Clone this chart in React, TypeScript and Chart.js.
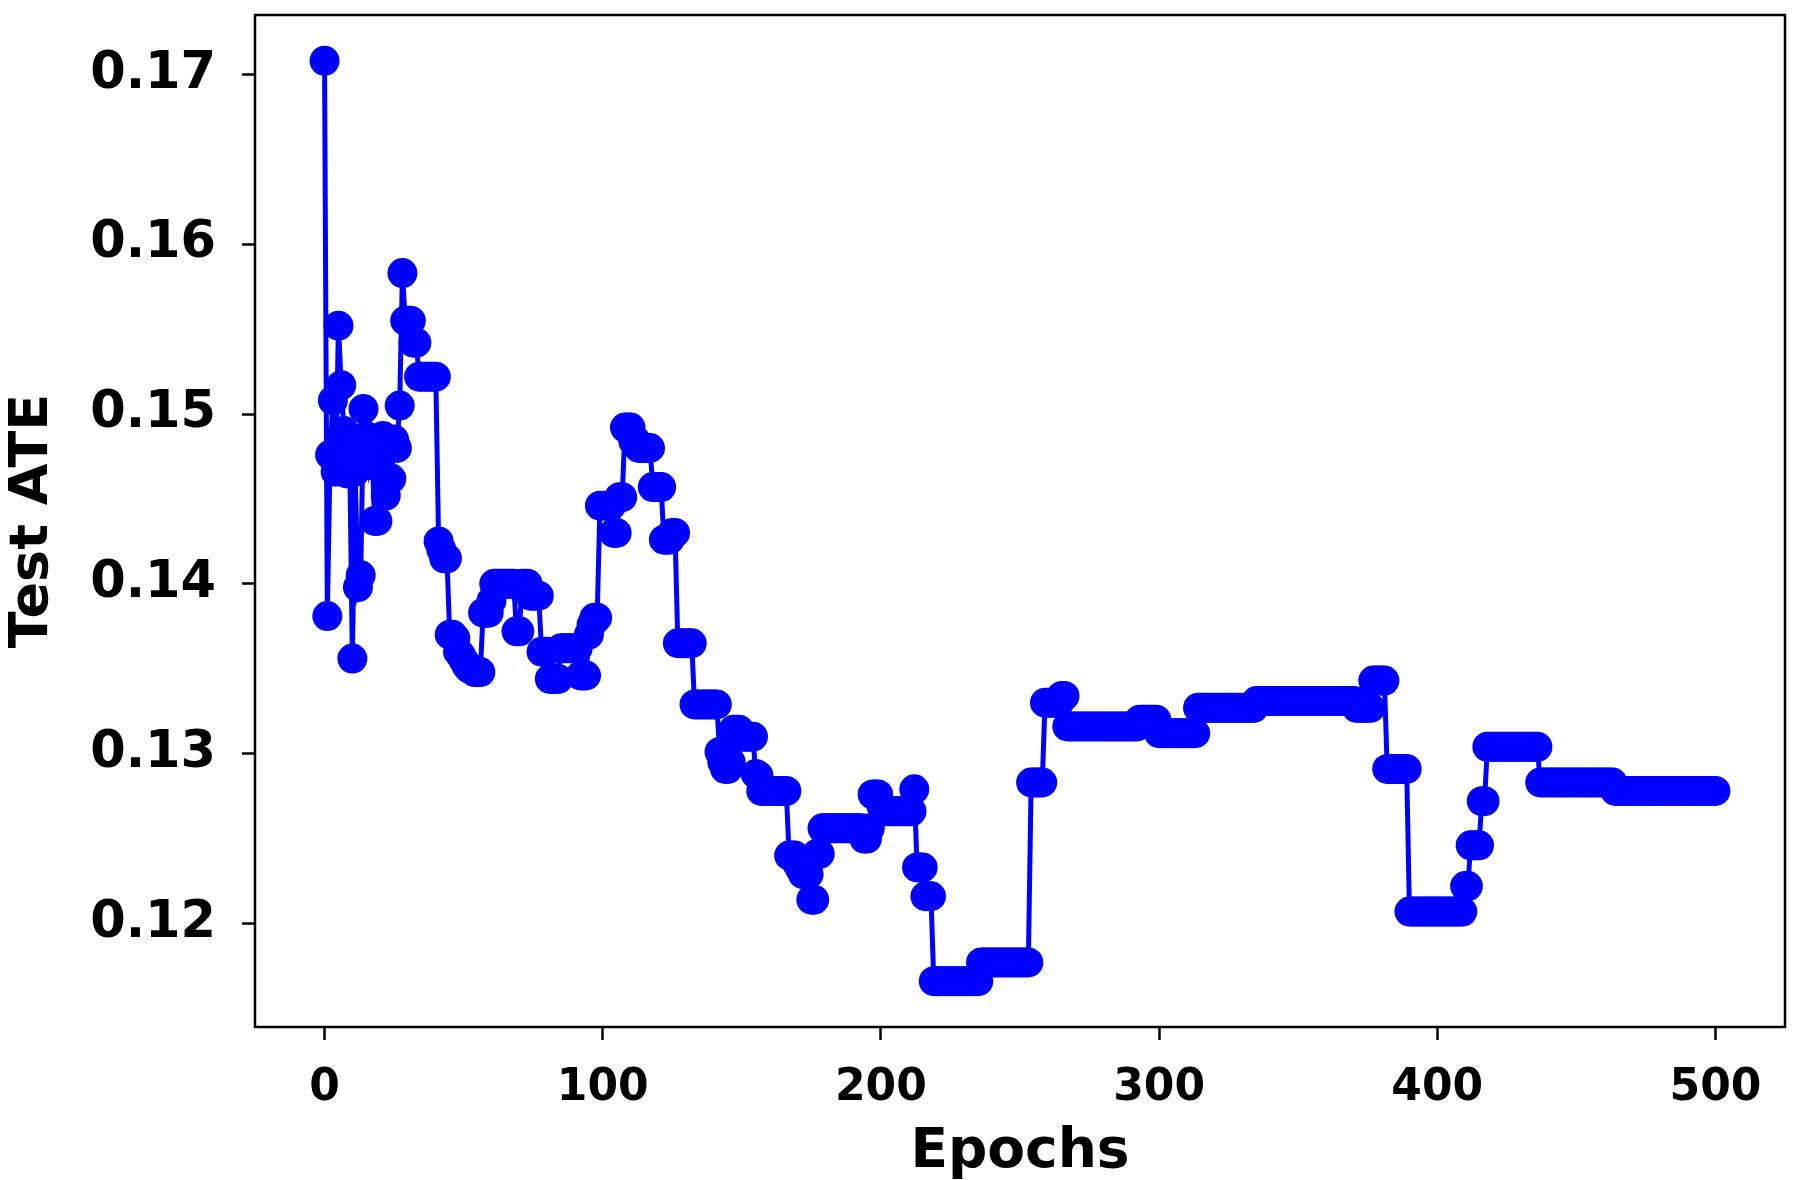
import React, { useEffect, useRef } from "react";
import { Chart, registerables } from "chart.js";

Chart.register(...registerables);

const X_LABEL = "Epochs";
const Y_LABEL = "Test ATE";
const X_TICKS = [0, 100, 200, 300, 400, 500];
const Y_TICKS = [0.12, 0.13, 0.14, 0.15, 0.16, 0.17];

// Test ATE per epoch (index = epoch)
const ATE_000_099 = [
  0.1708, 0.1381, 0.1476, 0.1508, 0.1466, 0.1552, 0.1517, 0.1490, 0.1465, 0.1480,
  0.1356, 0.1466, 0.1398, 0.1405, 0.1503, 0.1487, 0.1470, 0.1480, 0.1437, 0.1437,
  0.1470, 0.1487, 0.1452, 0.1462, 0.1462, 0.1485, 0.1480, 0.1505, 0.1583, 0.1555,
  0.1555, 0.1555, 0.1542, 0.1542, 0.1522, 0.1522, 0.1522, 0.1522, 0.1522, 0.1522,
  0.1522, 0.1425, 0.1420, 0.1415, 0.1415, 0.1370, 0.1370, 0.1368, 0.1360, 0.1358,
  0.1355, 0.1352, 0.1350, 0.1350, 0.1348, 0.1348, 0.1348, 0.1383, 0.1383, 0.1383,
  0.1390, 0.1400, 0.1400, 0.1400, 0.1400, 0.1400, 0.1400, 0.1400, 0.1400, 0.1372,
  0.1372, 0.1400, 0.1400, 0.1400, 0.1393, 0.1393, 0.1393, 0.1393, 0.1360, 0.1360,
  0.1360, 0.1344, 0.1344, 0.1344, 0.1344, 0.1362, 0.1362, 0.1362, 0.1362, 0.1362,
  0.1362, 0.1362, 0.1346, 0.1346, 0.1346, 0.1370, 0.1376, 0.1380, 0.1380, 0.1446,
];

const ATE_100_199 = [
  0.1446, 0.1446, 0.1446, 0.1446, 0.1430, 0.1430, 0.1451, 0.1451, 0.1492, 0.1492,
  0.1492, 0.1484, 0.1484, 0.1480, 0.1480, 0.1480, 0.1480, 0.1480, 0.1457, 0.1457,
  0.1457, 0.1457, 0.1426, 0.1426, 0.1426, 0.1430, 0.1430, 0.1365, 0.1365, 0.1365,
  0.1365, 0.1365, 0.1365, 0.1329, 0.1329, 0.1329, 0.1329, 0.1329, 0.1329, 0.1329,
  0.1329, 0.1329, 0.1301, 0.1295, 0.1291, 0.1291, 0.1295, 0.1314, 0.1314, 0.1314,
  0.1310, 0.1310, 0.1310, 0.1310, 0.1310, 0.1288, 0.1287, 0.1278, 0.1278, 0.1278,
  0.1278, 0.1278, 0.1278, 0.1278, 0.1278, 0.1278, 0.1278, 0.1240, 0.1240, 0.1240,
  0.1235, 0.1232, 0.1229, 0.1229, 0.1229, 0.1214, 0.1214, 0.1241, 0.1241, 0.1256,
  0.1256, 0.1256, 0.1256, 0.1256, 0.1256, 0.1256, 0.1256, 0.1256, 0.1256, 0.1256,
  0.1256, 0.1256, 0.1256, 0.1256, 0.1250, 0.1250, 0.1256, 0.1276, 0.1276, 0.1276,
];

const ATE_200_299 = [
  0.1270, 0.1266, 0.1266, 0.1266, 0.1266, 0.1266, 0.1266, 0.1266, 0.1266, 0.1266,
  0.1266, 0.1266, 0.1279, 0.1233, 0.1233, 0.1233, 0.1216, 0.1216, 0.1216, 0.1166,
  0.1166, 0.1166, 0.1166, 0.1166, 0.1166, 0.1166, 0.1166, 0.1166, 0.1166, 0.1166,
  0.1166, 0.1166, 0.1166, 0.1166, 0.1166, 0.1166, 0.1177, 0.1177, 0.1177, 0.1177,
  0.1177, 0.1177, 0.1177, 0.1177, 0.1177, 0.1177, 0.1177, 0.1177, 0.1177, 0.1177,
  0.1177, 0.1177, 0.1177, 0.1177, 0.1283, 0.1283, 0.1283, 0.1283, 0.1283, 0.1330,
  0.1330, 0.1330, 0.1330, 0.1330, 0.1330, 0.1334, 0.1334, 0.1316, 0.1316, 0.1316,
  0.1316, 0.1316, 0.1316, 0.1316, 0.1316, 0.1316, 0.1316, 0.1316, 0.1316, 0.1316,
  0.1316, 0.1316, 0.1316, 0.1316, 0.1316, 0.1316, 0.1316, 0.1316, 0.1316, 0.1316,
  0.1316, 0.1316, 0.1316, 0.1320, 0.1320, 0.1320, 0.1320, 0.1320, 0.1320, 0.1320,
];

const ATE_300_399 = [
  0.1312, 0.1312, 0.1312, 0.1312, 0.1312, 0.1312, 0.1312, 0.1312, 0.1312, 0.1312,
  0.1312, 0.1312, 0.1312, 0.1312, 0.1327, 0.1327, 0.1327, 0.1327, 0.1327, 0.1327,
  0.1327, 0.1327, 0.1327, 0.1327, 0.1327, 0.1327, 0.1327, 0.1327, 0.1327, 0.1327,
  0.1327, 0.1327, 0.1327, 0.1327, 0.1327, 0.1331, 0.1331, 0.1331, 0.1331, 0.1331,
  0.1331, 0.1331, 0.1331, 0.1331, 0.1331, 0.1331, 0.1331, 0.1331, 0.1331, 0.1331,
  0.1331, 0.1331, 0.1331, 0.1331, 0.1331, 0.1331, 0.1331, 0.1331, 0.1331, 0.1331,
  0.1331, 0.1331, 0.1331, 0.1331, 0.1331, 0.1331, 0.1331, 0.1331, 0.1331, 0.1331,
  0.1331, 0.1327, 0.1327, 0.1327, 0.1327, 0.1327, 0.1327, 0.1343, 0.1343, 0.1343,
  0.1343, 0.1343, 0.1291, 0.1291, 0.1291, 0.1291, 0.1291, 0.1291, 0.1291, 0.1291,
  0.1207, 0.1207, 0.1207, 0.1207, 0.1207, 0.1207, 0.1207, 0.1207, 0.1207, 0.1207,
];

const ATE_400_500 = [
  0.1207, 0.1207, 0.1207, 0.1207, 0.1207, 0.1207, 0.1207, 0.1207, 0.1207, 0.1207,
  0.1222, 0.1222, 0.1246, 0.1246, 0.1246, 0.1246, 0.1272, 0.1272, 0.1304, 0.1304,
  0.1304, 0.1304, 0.1304, 0.1304, 0.1304, 0.1304, 0.1304, 0.1304, 0.1304, 0.1304,
  0.1304, 0.1304, 0.1304, 0.1304, 0.1304, 0.1304, 0.1304, 0.1283, 0.1283, 0.1283,
  0.1283, 0.1283, 0.1283, 0.1283, 0.1283, 0.1283, 0.1283, 0.1283, 0.1283, 0.1283,
  0.1283, 0.1283, 0.1283, 0.1283, 0.1283, 0.1283, 0.1283, 0.1283, 0.1283, 0.1283,
  0.1283, 0.1283, 0.1283, 0.1283, 0.1278, 0.1278, 0.1278, 0.1278, 0.1278, 0.1278,
  0.1278, 0.1278, 0.1278, 0.1278, 0.1278, 0.1278, 0.1278, 0.1278, 0.1278, 0.1278,
  0.1278, 0.1278, 0.1278, 0.1278, 0.1278, 0.1278, 0.1278, 0.1278, 0.1278, 0.1278,
  0.1278, 0.1278, 0.1278, 0.1278, 0.1278, 0.1278, 0.1278, 0.1278, 0.1278, 0.1278,
  0.1278,
];

const ATE = [...ATE_000_099, ...ATE_100_199, ...ATE_200_299, ...ATE_300_399, ...ATE_400_500];

const BLUE = "#0000ff";
const FONT = "'DejaVu Sans', 'Liberation Sans', sans-serif";

const framePlugin = {
  id: "frame",
  afterDraw(chart: any) {
    const { ctx, chartArea: a } = chart;
    ctx.save();
    ctx.strokeStyle = "#000";
    ctx.lineWidth = 2.5;
    ctx.strokeRect(a.left, a.top, a.right - a.left, a.bottom - a.top);
    ctx.restore();
  },
};

export default function App() {
  const ref = useRef<HTMLCanvasElement>(null);

  useEffect(() => {
    if (!ref.current) return;
    const chart = new Chart(ref.current, {
      type: "line",
      data: {
        datasets: [
          {
            data: ATE.map((v, i) => ({ x: i, y: v })),
            borderColor: BLUE,
            backgroundColor: BLUE,
            borderWidth: 5,
            pointRadius: 15,
            pointHoverRadius: 15,
            pointBorderWidth: 0,
            pointBackgroundColor: BLUE,
            tension: 0,
            fill: false,
          },
        ],
      },
      options: {
        responsive: false,
        animation: false,
        events: [],
        layout: { padding: { top: 14, right: 15, left: 0, bottom: 0 } },
        plugins: { legend: { display: false }, tooltip: { enabled: false } },
        scales: {
          x: {
            type: "linear",
            min: -25,
            max: 525,
            afterBuildTicks: (s: any) => {
              s.ticks = X_TICKS.map((v) => ({ value: v }));
            },
            afterFit: (s: any) => {
              s.height = 153;
              s.paddingLeft = 0;
              s.paddingRight = 0;
            },
            grid: {
              drawOnChartArea: false,
              drawTicks: true,
              tickLength: 13,
              tickWidth: 2.5,
              tickColor: "#000",
            },
            border: { display: false },
            ticks: {
              autoSkip: false,
              maxRotation: 0,
              color: "#000",
              padding: 22,
              font: { family: FONT, weight: "bold", size: 44 },
              callback: (v: any) => String(v),
            },
            title: {
              display: true,
              text: X_LABEL,
              color: "#000",
              padding: { top: 0, bottom: 0 },
              font: { family: FONT, weight: "bold", size: 55, lineHeight: 1 },
            },
          },
          y: {
            type: "linear",
            min: 0.1139,
            max: 0.1735,
            afterBuildTicks: (s: any) => {
              s.ticks = Y_TICKS.map((v) => ({ value: v }));
            },
            afterFit: (s: any) => {
              s.width = 255;
              s.paddingTop = 0;
              s.paddingBottom = 0;
            },
            grid: {
              drawOnChartArea: false,
              drawTicks: true,
              tickLength: 13,
              tickWidth: 2.5,
              tickColor: "#000",
            },
            border: { display: false },
            ticks: {
              color: "#000",
              padding: 26,
              font: { family: FONT, weight: "bold", size: 51 },
              callback: (v: any) => Number(v).toFixed(2),
            },
            title: {
              display: true,
              text: Y_LABEL,
              color: "#000",
              padding: { top: 6, bottom: 0 },
              font: { family: FONT, weight: "bold", size: 54, lineHeight: 1 },
            },
          },
        },
      },
      plugins: [framePlugin],
    } as any);
    return () => chart.destroy();
  }, []);

  return (
    <canvas
      ref={ref}
      width={1800}
      height={1180}
      style={{ position: "absolute", left: 0, top: 0, width: 1800, height: 1180 }}
    />
  );
}
